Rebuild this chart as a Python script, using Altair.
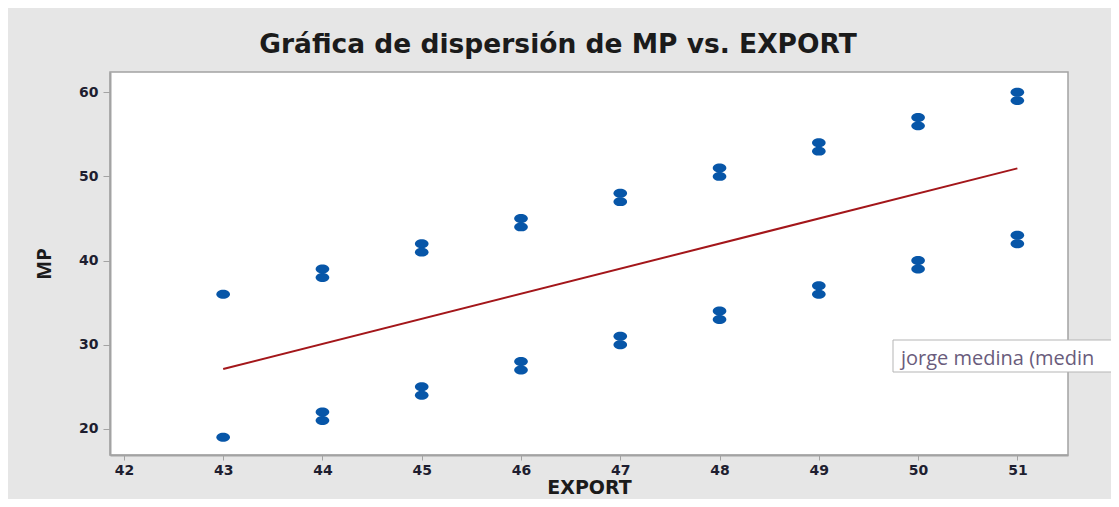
import altair as alt
import pandas as pd

# Data
export_vals = [43, 43,
               44, 44, 44, 44,
               45, 45, 45, 45,
               46, 46, 46, 46,
               47, 47, 47, 47,
               48, 48, 48, 48,
               49, 49, 49, 49,
               50, 50, 50, 50,
               51, 51, 51, 51]
mp_vals = [36, 19,
           39, 38, 22, 21,
           42, 41, 25, 24,
           45, 44, 28, 27,
           48, 47, 31, 30,
           51, 50, 34, 33,
           54, 53, 37, 36,
           57, 56, 40, 39,
           60, 59, 43, 42]
x_ticks = [42, 43, 44, 45, 46, 47, 48, 49, 50, 51]
y_ticks = [20, 30, 40, 50, 60]
title_text = "Gráfica de dispersión de MP vs. EXPORT"
tooltip_text = "jorge medina (medin"

df = pd.DataFrame({"EXPORT": export_vals, "MP": mp_vals})

FONT = "Open Sans"
WIDE = "DejaVu Sans"
AXIS_GRAY = "#A3A3A3"

x_enc = alt.X("EXPORT:Q",
              scale=alt.Scale(domain=[41.86, 51.51], nice=False, zero=False),
              axis=alt.Axis(values=x_ticks, title="EXPORT", format="d"))
y_enc = alt.Y("MP:Q",
              scale=alt.Scale(domain=[16.9, 62.4], nice=False, zero=False),
              axis=alt.Axis(values=y_ticks, title="MP", format="d"))

ellipse = "M -1 0 A 1 0.66 0 1 1 1 0 A 1 0.66 0 1 1 -1 0 Z"

points = alt.Chart(df).mark_point(
    shape=ellipse, filled=True, size=185, color="#0756A8", opacity=1
).encode(x=x_enc, y=y_enc)

fit = alt.Chart(df).transform_regression("EXPORT", "MP").mark_line(
    color="#A3161A", strokeWidth=2
).encode(x=x_enc, y=y_enc)

tip_df = pd.DataFrame({"label": [tooltip_text]})
tip_box = alt.Chart(tip_df).mark_rect(
    fill="white", stroke="#B5B5B5", strokeWidth=1
).encode(x=alt.value(783), x2=alt.value(1020), y=alt.value(268), y2=alt.value(300))
tip_text = alt.Chart(tip_df).mark_text(
    align="left", baseline="alphabetic", font=FONT, fontSize=20, color="#6A5C7C"
).encode(x=alt.value(791), y=alt.value(293), text="label:N")

chart = alt.layer(points, fit, tip_box, tip_text).properties(
    width=958, height=383,
    autosize=alt.AutoSizeParams(type="none"),
    padding={"left": 102, "top": 64, "right": 43, "bottom": 44},
    background="#E6E6E6",
    title=alt.TitleParams(title_text, font=WIDE, fontSize=26.5, fontWeight="bold",
                          color="#1B1B1B", anchor="middle", frame="group",
                          dx=-31, offset=14),
).configure_view(
    fill="white", stroke=AXIS_GRAY, strokeWidth=1.5
).configure_axis(
    grid=False,
    domainColor=AXIS_GRAY, domainWidth=2,
    tickColor=AXIS_GRAY, tickWidth=1,
    labelFont=WIDE, labelFontSize=14, labelFontWeight="bold", labelColor="#1E1E30",
    titleColor="#1B1B1B",
).configure_axisX(
    tickSize=5, labelPadding=3, titleFont=WIDE, titleFontWeight="bold", titleFontSize=19,
    titlePadding=1
).configure_axisY(
    tickSize=7, labelPadding=5, titleFont=FONT, titleFontWeight="bold", titleFontSize=20,
    titlePadding=24
)

chart.save("out.html", embed_options={"renderer": "svg", "actions": False})
